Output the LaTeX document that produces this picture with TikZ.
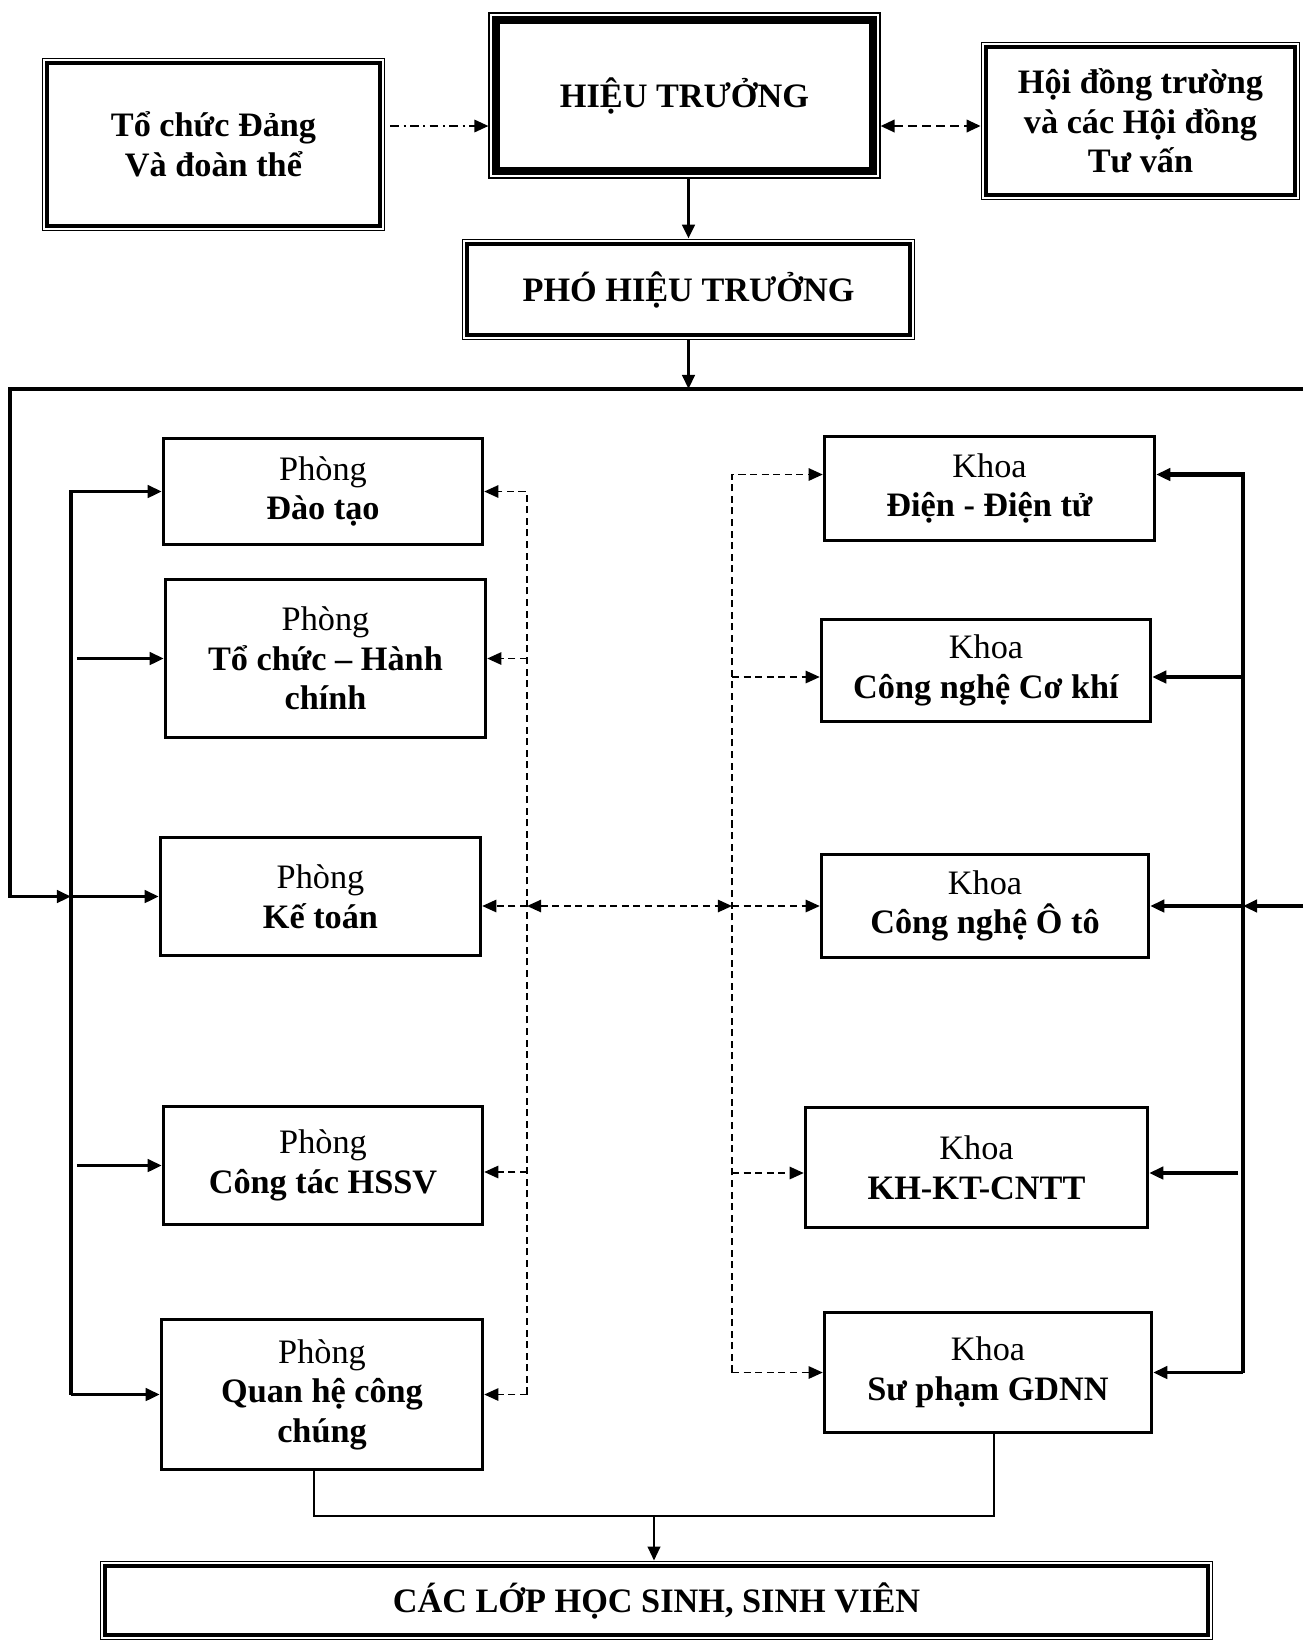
\documentclass[tikz,border=0pt]{standalone}
\usepackage{fontspec}
\setmainfont{Liberation Serif}
\usepackage{tikz}
\usetikzlibrary{arrows.meta,fit}
\tikzstyle{box}=[draw, line width=2pt, align=center, inner sep=2pt, font=\bfseries\fontsize{19.5}{22.5}\selectfont]
\tikzstyle{frame}=[draw, line width=0.9pt, inner sep=1.6pt]
\tikzstyle{arr}=[line width=2pt, -{Triangle[length=8pt,width=7pt]}]
\tikzstyle{darr}=[line width=1pt, dash pattern=on 4pt off 2.6pt, -{Triangle[length=8pt,width=7pt]}]

\begin{document}
\begin{tikzpicture}[x=0.02cm, y=-0.02cm]
  \useasboundingbox (0,0) rectangle (1303,1641);
  % top row
  \node[box, minimum width=6.66cm, minimum height=3.26cm] (dang) at (213.5,144.5) {Tổ chức Đảng\\Và đoàn thể};
  \node[box, line width=4.5pt, minimum width=7.54cm, minimum height=3.02cm] (ht) at (684.5,95.5) {HIỆU TRƯỞNG};
  \node[box, minimum width=6.18cm, minimum height=2.96cm] (hd) at (1140.5,121) {Hội đồng trường\\và các Hội đồng\\Tư vấn};
  \node[box, minimum width=8.86cm, minimum height=1.82cm] (pht) at (688.5,289.5) {PHÓ HIỆU TRƯỞNG};
  \node[box, minimum width=22.06cm, minimum height=1.38cm] (lop) at (656.5,1600.5) {CÁC LỚP HỌC SINH, SINH VIÊN};
  % outer thin lines
  \foreach \n in {dang,ht,hd,pht,lop}
    \node[frame, fit=(\n)] (f\n) {};

  %% the offices (left)
  \node[box, minimum width=6.38cm, minimum height=2.12cm] (dt) at (323,491.5) {{\mdseries Phòng}\\Đào tạo};
  \node[box, minimum width=6.40cm, minimum height=3.16cm] (tchc) at (325.5,658.5) {{\mdseries Phòng}\\Tổ chức -- Hành\\chính};
  \node[box, minimum width=6.40cm, minimum height=2.36cm] (kt) at (320.5,896.5) {{\mdseries Phòng}\\Kế toán};
  \node[box, minimum width=6.38cm, minimum height=2.36cm] (hssv) at (323,1165.5) {{\mdseries Phòng}\\Công tác HSSV};
  \node[box, minimum width=6.42cm, minimum height=3.00cm] (qhcc) at (322,1394.5) {{\mdseries Phòng}\\Quan hệ công\\chúng};
  %% the faculties (right)
  \node[box, minimum width=6.60cm, minimum height=2.08cm] (ddt) at (989.5,488.5) {{\mdseries Khoa}\\Điện - Điện tử};
  \node[box, minimum width=6.58cm, minimum height=2.04cm] (ck) at (986,670.5) {{\mdseries Khoa}\\Công nghệ Cơ khí};
  \node[box, minimum width=6.54cm, minimum height=2.06cm] (oto) at (985,906) {{\mdseries Khoa}\\Công nghệ Ô tô};
  \node[box, minimum width=6.84cm, minimum height=2.40cm] (cntt) at (976.5,1167.5) {{\mdseries Khoa}\\KH-KT-CNTT};
  \node[box, minimum width=6.54cm, minimum height=2.40cm] (gdnn) at (988,1372.5) {{\mdseries Khoa}\\Sư phạm GDNN};

  % bus lines
  \coordinate (ledge) at (10,389);
  \coordinate (redge) at (1303,389);
  \coordinate (lbus) at (71,0);
  \coordinate (rbus) at (1243,0);
  \coordinate (ldash) at (527,0);
  \coordinate (rdash) at (732,0);
  \coordinate (y1) at (0,126);
  \coordinate (join) at (654,1516);

  % top connectors
  \draw[line width=1.3pt, dash pattern=on 5pt off 2.5pt on 1.2pt off 2.5pt, -{Triangle[length=8pt,width=7pt]}] ([xshift=0.1cm]fdang.east |- y1) -- (fht.west |- y1);
  \draw[line width=1.5pt, dash pattern=on 5pt off 3pt, {Triangle[length=8pt,width=7pt]}-{Triangle[length=8pt,width=7pt]}] (fht.east |- y1) -- (fhd.west |- y1);
  \draw[arr] (fht.south -| pht.north) -- (fpht.north);
  \draw[arr] (fpht.south) -- (fpht.south |- redge);
  \draw[arr] (redge) -- (ledge) -- (ledge |- kt.west) -- (lbus |- kt.west);

  % left solid arrows
  \draw[arr] (lbus |- qhcc.west) -- (lbus |- dt.west) -- (dt.west);
  \draw[arr] (lbus |- qhcc.west) -- (qhcc.west);
  \draw[arr] (lbus |- kt.west) -- (kt.west);
  \foreach \b in {tchc,hssv}
    \draw[arr] ([xshift=0.12cm]lbus |- \b.west) -- (\b.west);

  % left dashed arrows
  \draw[darr] (ldash |- qhcc.east) -- (ldash |- dt.east) -- (dt.east);
  \draw[darr] (ldash |- qhcc.east) -- (qhcc.east);
  \draw[darr] (ldash |- tchc.east) -- (tchc.east);
  \draw[darr] (ldash |- oto.west) -- (kt.east |- oto.west);
  \draw[darr] ([yshift=-0.13cm]ldash |- hssv.east) -- ([yshift=-0.13cm]hssv.east);
  % middle
  \draw[darr, {Triangle[length=8pt,width=7pt]}-{Triangle[length=8pt,width=7pt]}] (ldash |- oto.west) -- (rdash |- oto.west);

  % right dashed arrows
  \draw[darr] (rdash |- gdnn.west) -- ([yshift=0.28cm]rdash |- ddt.west) -- ([yshift=0.28cm]ddt.west);
  \draw[darr] (rdash |- gdnn.west) -- (gdnn.west);
  \foreach \b/\s in {ck/-0.13,oto/0,cntt/-0.11}
    \draw[darr] ([yshift=\s cm]rdash |- \b.west) -- ([yshift=\s cm]\b.west);

  % right solid arrows
  \draw[arr, line width=2.4pt] (rbus |- gdnn.east) -- ([yshift=0.28cm]rbus |- ddt.east) -- ([yshift=0.28cm]ddt.east);
  \draw[arr] (rbus |- gdnn.east) -- (gdnn.east);
  \foreach \b/\s in {ck/-0.13,oto/0}
    \draw[arr] ([yshift=\s cm]rbus |- \b.east) -- ([yshift=\s cm]\b.east);
  \draw[arr] ([xshift=-0.1cm,yshift=-0.11cm]rbus |- cntt.east) -- ([yshift=-0.11cm]cntt.east);
  \draw[arr] (redge |- oto.east) -- (rbus |- oto.east);

  % down to the classes
  \draw[line width=1.6pt] ([xshift=-0.16cm]qhcc.south) |- (join) -| ([xshift=0.12cm]gdnn.south);
  \draw[arr, line width=1.6pt] (join) -- (join |- flop.north);
\end{tikzpicture}
\end{document}
